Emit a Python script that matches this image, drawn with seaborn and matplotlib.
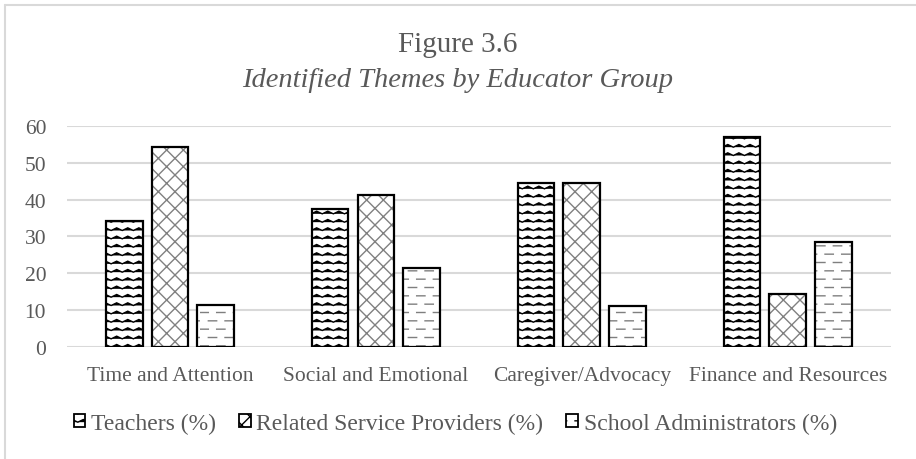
import warnings
import numpy as np
import pandas as pd
import seaborn as sns
import matplotlib.pyplot as plt
import matplotlib.hatch as mhatch
from matplotlib.path import Path
from matplotlib.patches import Patch, Rectangle

warnings.filterwarnings("ignore")

# Data
themes = ["Time and Attention", "Social and Emotional", "Caregiver/Advocacy", "Finance and Resources"]
groups = ["Teachers (%)", "Related Service Providers (%)", "School Administrators (%)"]
teachers = [34.3, 37.5, 44.4, 57.1]
related_service = [54.3, 41.2, 44.4, 14.3]
school_admin = [11.4, 21.4, 11.1, 28.6]

df = pd.DataFrame({
    "Theme": themes * 3,
    "Group": [groups[0]] * 4 + [groups[1]] * 4 + [groups[2]] * 4,
    "Percent": teachers + related_service + school_admin,
})


# Excel-like fill patterns: rows of small waves ('w') and staggered dashes ('_')
class WaveRows(mhatch.HatchPatternBase):
    def __init__(self, hatch, density):
        self.rows = int(hatch.count("w") * density)
        self.cols = 9
        self.num_vertices = self.rows * (2 * self.cols + 1)

    def set_vertices_and_codes(self, vertices, codes):
        k = 0
        amp = 0.16 / max(self.rows, 1)
        for i in range(self.rows):
            y = (i + 0.5) / self.rows
            for j in range(2 * self.cols + 1):
                vertices[k] = (j / (2 * self.cols), y + (amp if j % 2 else -amp))
                codes[k] = Path.LINETO if j else Path.MOVETO
                k += 1


class DashRows(mhatch.HatchPatternBase):
    def __init__(self, hatch, density):
        self.rows = int(hatch.count("_") * density)
        self.cols = 6
        self.num_vertices = self.rows * self.cols * 2

    def set_vertices_and_codes(self, vertices, codes):
        k = 0
        for i in range(self.rows):
            y = (i + 0.5) / self.rows
            off = (i % 2) * 0.5 / self.cols
            for j in range(self.cols):
                x0 = j / self.cols + off
                vertices[k] = (x0, y)
                vertices[k + 1] = (x0 + 0.5 / self.cols, y)
                codes[k] = Path.MOVETO
                codes[k + 1] = Path.LINETO
                k += 2


mhatch._hatch_types.extend([WaveRows, DashRows])

sns.set_style("white")
plt.rcParams["font.family"] = ["Liberation Serif", "DejaVu Serif"]
plt.rcParams["hatch.linewidth"] = 1.0
text_col = "#595959"

hatches = ["ww", "xx", "__"]
hatch_cols = ["black", "#808080", "#7f7f7f"]

fig = plt.figure(figsize=(9.16, 4.6), dpi=100)
ax = fig.add_axes([0.0731, 0.2435, 0.8992, 0.4804])

sns.barplot(data=df, x="Theme", y="Percent", hue="Group", order=themes, hue_order=groups,
            palette=["white"] * 3, width=0.665, gap=0.2, legend=False, ax=ax, zorder=3)

# hatch in its own colour, then a black outline drawn on top
for cont, h, hc in zip(ax.containers, hatches, hatch_cols):
    for bar in cont:
        bar.set_hatch(h)
        bar.set_edgecolor(hc)
        bar.set_linewidth(0)
        ax.add_patch(Rectangle(bar.get_xy(), bar.get_width(), bar.get_height(),
                               fill=False, edgecolor="black", linewidth=1.6, zorder=4))

ax.set_ylim(0, 60)
ax.set_yticks(range(0, 61, 10))
ax.yaxis.grid(True, color="#d9d9d9", linewidth=1.5, zorder=0)
ax.set_axisbelow(True)
for s in ax.spines.values():
    s.set_visible(False)
ax.set_xlabel("")
ax.set_ylabel("")
ax.tick_params(axis="both", length=0, labelsize=15.5, colors=text_col)
ax.tick_params(axis="x", pad=14)
ax.tick_params(axis="y", pad=15)

fig.text(0.5, 0.902, "Figure 3.6", ha="center", va="center", fontsize=21, color=text_col)
fig.text(0.5, 0.826, "Identified Themes by Educator Group", ha="center", va="center",
         fontsize=20.5, style="italic", color=text_col)

handles = [Patch(facecolor="white", edgecolor="black", hatch=h, linewidth=1.3) for h in hatches]
fig.legend(handles, groups, loc="center", bbox_to_anchor=(0.497, 0.078), ncol=3, frameon=False,
           fontsize=17, labelcolor=text_col, handlelength=0.5, handleheight=0.5,
           handletextpad=0.25, columnspacing=0.95)

# light frame (left and top edges visible in the reference)
fig.add_artist(plt.Line2D([0.005, 0.005], [0.0, 0.987], color="#d9d9d9", linewidth=1.5))
fig.add_artist(plt.Line2D([0.005, 1.0], [0.987, 0.987], color="#d9d9d9", linewidth=1.5))

fig.savefig("out.png", dpi=100)
